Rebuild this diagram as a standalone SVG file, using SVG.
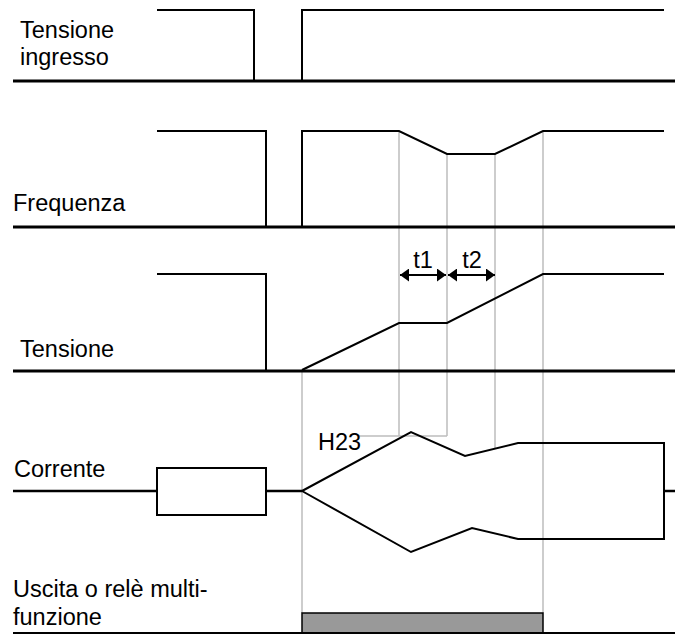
<svg xmlns="http://www.w3.org/2000/svg" width="675" height="635" viewBox="0 0 675 635">
<defs>
<style>
.lbl{font-family:"Liberation Sans",Arial,sans-serif;font-size:23.5px;fill:#000}
.base{stroke:#000;stroke-width:3;fill:none}
.sig{stroke:#000;stroke-width:2;fill:none;stroke-linejoin:miter}
.grid{stroke:#bdbdbd;stroke-width:1.5;fill:none}
</style>
<marker id="ah" viewBox="0 0 10 10" refX="10" refY="5" markerWidth="9" markerHeight="13" markerUnits="userSpaceOnUse" orient="auto-start-reverse" preserveAspectRatio="none">
<path d="M0,0 L10,5 L0,10 Z" fill="#000"/>
</marker>
</defs>
<rect width="675" height="635" fill="#fff"/>
<g id="grid-lines">
<line class="grid" x1="302" y1="372" x2="302" y2="613"/>
<line class="grid" x1="399" y1="131" x2="399" y2="436"/>
<line class="grid" x1="447" y1="154" x2="447" y2="436"/>
<line class="grid" x1="495" y1="154" x2="495" y2="448"/>
<line class="grid" x1="543" y1="131" x2="543" y2="613"/>
<line class="grid" x1="358" y1="436" x2="447" y2="436"/>
</g>
<g id="input-voltage">
<line class="base" x1="13" y1="81" x2="675" y2="81"/>
<polyline class="sig" points="157,10 254,10 254,81"/>
<polyline class="sig" points="302,81 302,10 664,10"/>
<text class="lbl" x="20" y="38">Tensione</text>
<text class="lbl" x="20" y="65">ingresso</text>
</g>
<g id="frequency">
<line class="base" x1="13" y1="227" x2="675" y2="227"/>
<polyline class="sig" points="157,131 266,131 266,227"/>
<polyline class="sig" points="302,227 302,131 399,131 447,154 495,154 543,131 664,131"/>
<text class="lbl" x="13" y="211">Frequenza</text>
</g>
<g id="voltage">
<line class="base" x1="13" y1="371" x2="675" y2="371"/>
<polyline class="sig" points="157,274 266,274 266,371"/>
<polyline class="sig" points="302,370 399,323 447,323 543,274 664,274"/>
<text class="lbl" x="20" y="357">Tensione</text>
</g>
<g id="connectors">
<line class="sig" x1="400" y1="275" x2="446" y2="275" marker-start="url(#ah)" marker-end="url(#ah)"/>
<line class="sig" x1="448" y1="275" x2="495" y2="275" marker-start="url(#ah)" marker-end="url(#ah)"/>
<text class="lbl" x="423" y="268" text-anchor="middle">t1</text>
<text class="lbl" x="472" y="268" text-anchor="middle">t2</text>
</g>
<g id="current">
<line class="sig" x1="13" y1="491" x2="157" y2="491" style="stroke-width:2.5"/>
<rect x="157" y="468" width="109" height="47" fill="#fff" stroke="#000" stroke-width="2"/>
<line class="sig" x1="266" y1="491" x2="302" y2="491" style="stroke-width:2.5"/>
<polyline class="sig" points="302,491 411,432 465,456 518,443 664,443 664,539 518,539 472,528 411,552 302,491"/>
<line class="sig" x1="664" y1="491" x2="675" y2="491" style="stroke-width:2.5"/>
<text class="lbl" x="318" y="450">H23</text>
<text class="lbl" x="14" y="477">Corrente</text>
</g>
<g id="relay-output">
<rect x="302" y="613" width="241" height="20" fill="#999" stroke="#000" stroke-width="1.5"/>
<line class="sig" x1="13" y1="633" x2="675" y2="633"/>
<text class="lbl" x="13" y="597">Uscita o relè multi-</text>
<text class="lbl" x="13" y="625">funzione</text>
</g>
</svg>
